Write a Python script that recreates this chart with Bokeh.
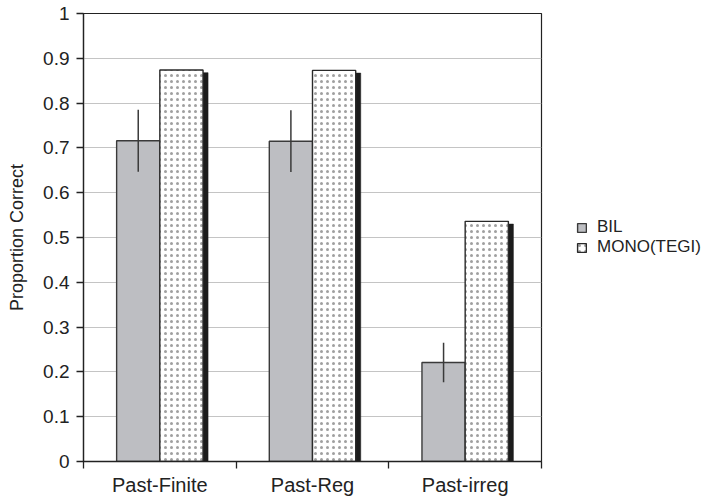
import numpy as np
from bokeh.plotting import figure
from bokeh.models import (ColumnDataSource, Range1d, FixedTicker, SingleIntervalTicker,
                          CustomJSTickFormatter, Legend, LegendItem)
from bokeh.embed import file_html
from bokeh.resources import INLINE

categories = ["Past-Finite", "Past-Reg", "Past-irreg"]
bil = [0.716, 0.715, 0.221]
bil_err = [0.069, 0.069, 0.044]
mono = [0.874, 0.873, 0.536]
series_names = ["BIL", "MONO(TEGI)"]

FONT = "Liberation Sans"
TXT = "#222222"
BW = 0.283          # bar width in category units
SH_DX = 0.033       # shadow offset (category units)
SH_DY = 0.006       # shadow drop (data units)

x = np.arange(len(categories)) + 0.5
bil_arr = np.array(bil)
err_arr = np.array(bil_err)
mono_arr = np.array(mono)

src = ColumnDataSource(dict(
    xb=x - BW / 2, xm=x + BW / 2, xs=x + BW / 2 + SH_DX,
    bil=bil_arr, mono=mono_arr, shadow=mono_arr - SH_DY,
    lo=bil_arr - err_arr, hi=bil_arr + err_arr,
))

p = figure(width=686, height=485, output_backend="svg", toolbar_location=None,
           x_range=Range1d(0, len(categories)), y_range=Range1d(0, 1),
           frame_width=458, frame_height=448,
           min_border_left=83, min_border_right=153, min_border_top=13, min_border_bottom=24)

p.outline_line_color = "#222222"
p.outline_line_width = 1.2
p.background_fill_color = "white"
p.border_fill_color = "white"

# grid
p.xgrid.visible = False
p.ygrid.grid_line_color = "#c4c4c4"
p.ygrid.grid_line_width = 1.2
p.ygrid.ticker = SingleIntervalTicker(interval=0.1, num_minor_ticks=0)

# bars
r_bil = p.vbar(x="xb", top="bil", width=BW, bottom=0, source=src,
               fill_color="#bdbec2", line_color="#3a3a3a", line_width=1.4)
p.vbar(x="xs", top="shadow", width=BW, bottom=0, source=src,
       fill_color="#1c1c1c", line_color="#1c1c1c", line_width=0.5)
r_mono = p.vbar(x="xm", top="mono", width=BW, bottom=0, source=src,
                fill_color="white", line_color="#2a2a2a", line_width=1.4,
                hatch_pattern="dot", hatch_color="#a0a0a0", hatch_scale=6,
                hatch_weight=0.2)
p.segment(x0="xb", y0="lo", x1="xb", y1="hi", source=src,
          line_color="#3a3a3a", line_width=1.5)

# y axis
ya = p.yaxis[0]
ya.ticker = SingleIntervalTicker(interval=0.1, num_minor_ticks=0)
ya.formatter = CustomJSTickFormatter(code="return tick.toFixed(1).replace(/\\.0$/, '');")
ya.axis_label = "Proportion Correct"
ya.axis_label_text_font = FONT
ya.axis_label_text_font_size = "18px"
ya.axis_label_text_font_style = "normal"
ya.axis_label_text_color = TXT
ya.axis_label_standoff = 13
ya.major_label_text_font = FONT
ya.major_label_text_font_size = "19px"
ya.major_label_text_color = TXT
ya.major_label_standoff = 7
ya.major_tick_out = 7
ya.major_tick_in = 0
ya.minor_tick_line_color = None
ya.axis_line_color = "#222222"
ya.axis_line_width = 1.3
ya.major_tick_line_color = "#222222"
ya.major_tick_line_width = 1.3

# x axis
xa = p.xaxis[0]
xa.ticker = FixedTicker(ticks=list(x), minor_ticks=list(range(len(categories) + 1)))
xa.formatter = CustomJSTickFormatter(args=dict(labels=categories),
                                     code="return labels[Math.round(tick - 0.5)];")
xa.major_label_text_font = FONT
xa.major_label_text_font_size = "20px"
xa.major_label_text_color = TXT
xa.major_label_standoff = 5
xa.major_tick_line_color = None
xa.minor_tick_out = 7
xa.minor_tick_in = 0
xa.minor_tick_line_color = "#222222"
xa.minor_tick_line_width = 1.3
xa.axis_line_color = "#222222"
xa.axis_line_width = 1.3

legend = Legend(items=[LegendItem(label=series_names[0], renderers=[r_bil]),
                       LegendItem(label=series_names[1], renderers=[r_mono])],
                location="left", orientation="vertical")
legend.border_line_color = None
legend.background_fill_alpha = 0
legend.padding = 0
legend.margin = 35
legend.spacing = -2
legend.glyph_width = 11
legend.glyph_height = 11
legend.label_height = 11
legend.label_standoff = 10
legend.label_text_font = FONT
legend.label_text_font_size = "17px"
legend.label_text_color = TXT
p.add_layout(legend, "right")

open("out.html", "w").write(file_html(p, INLINE))
